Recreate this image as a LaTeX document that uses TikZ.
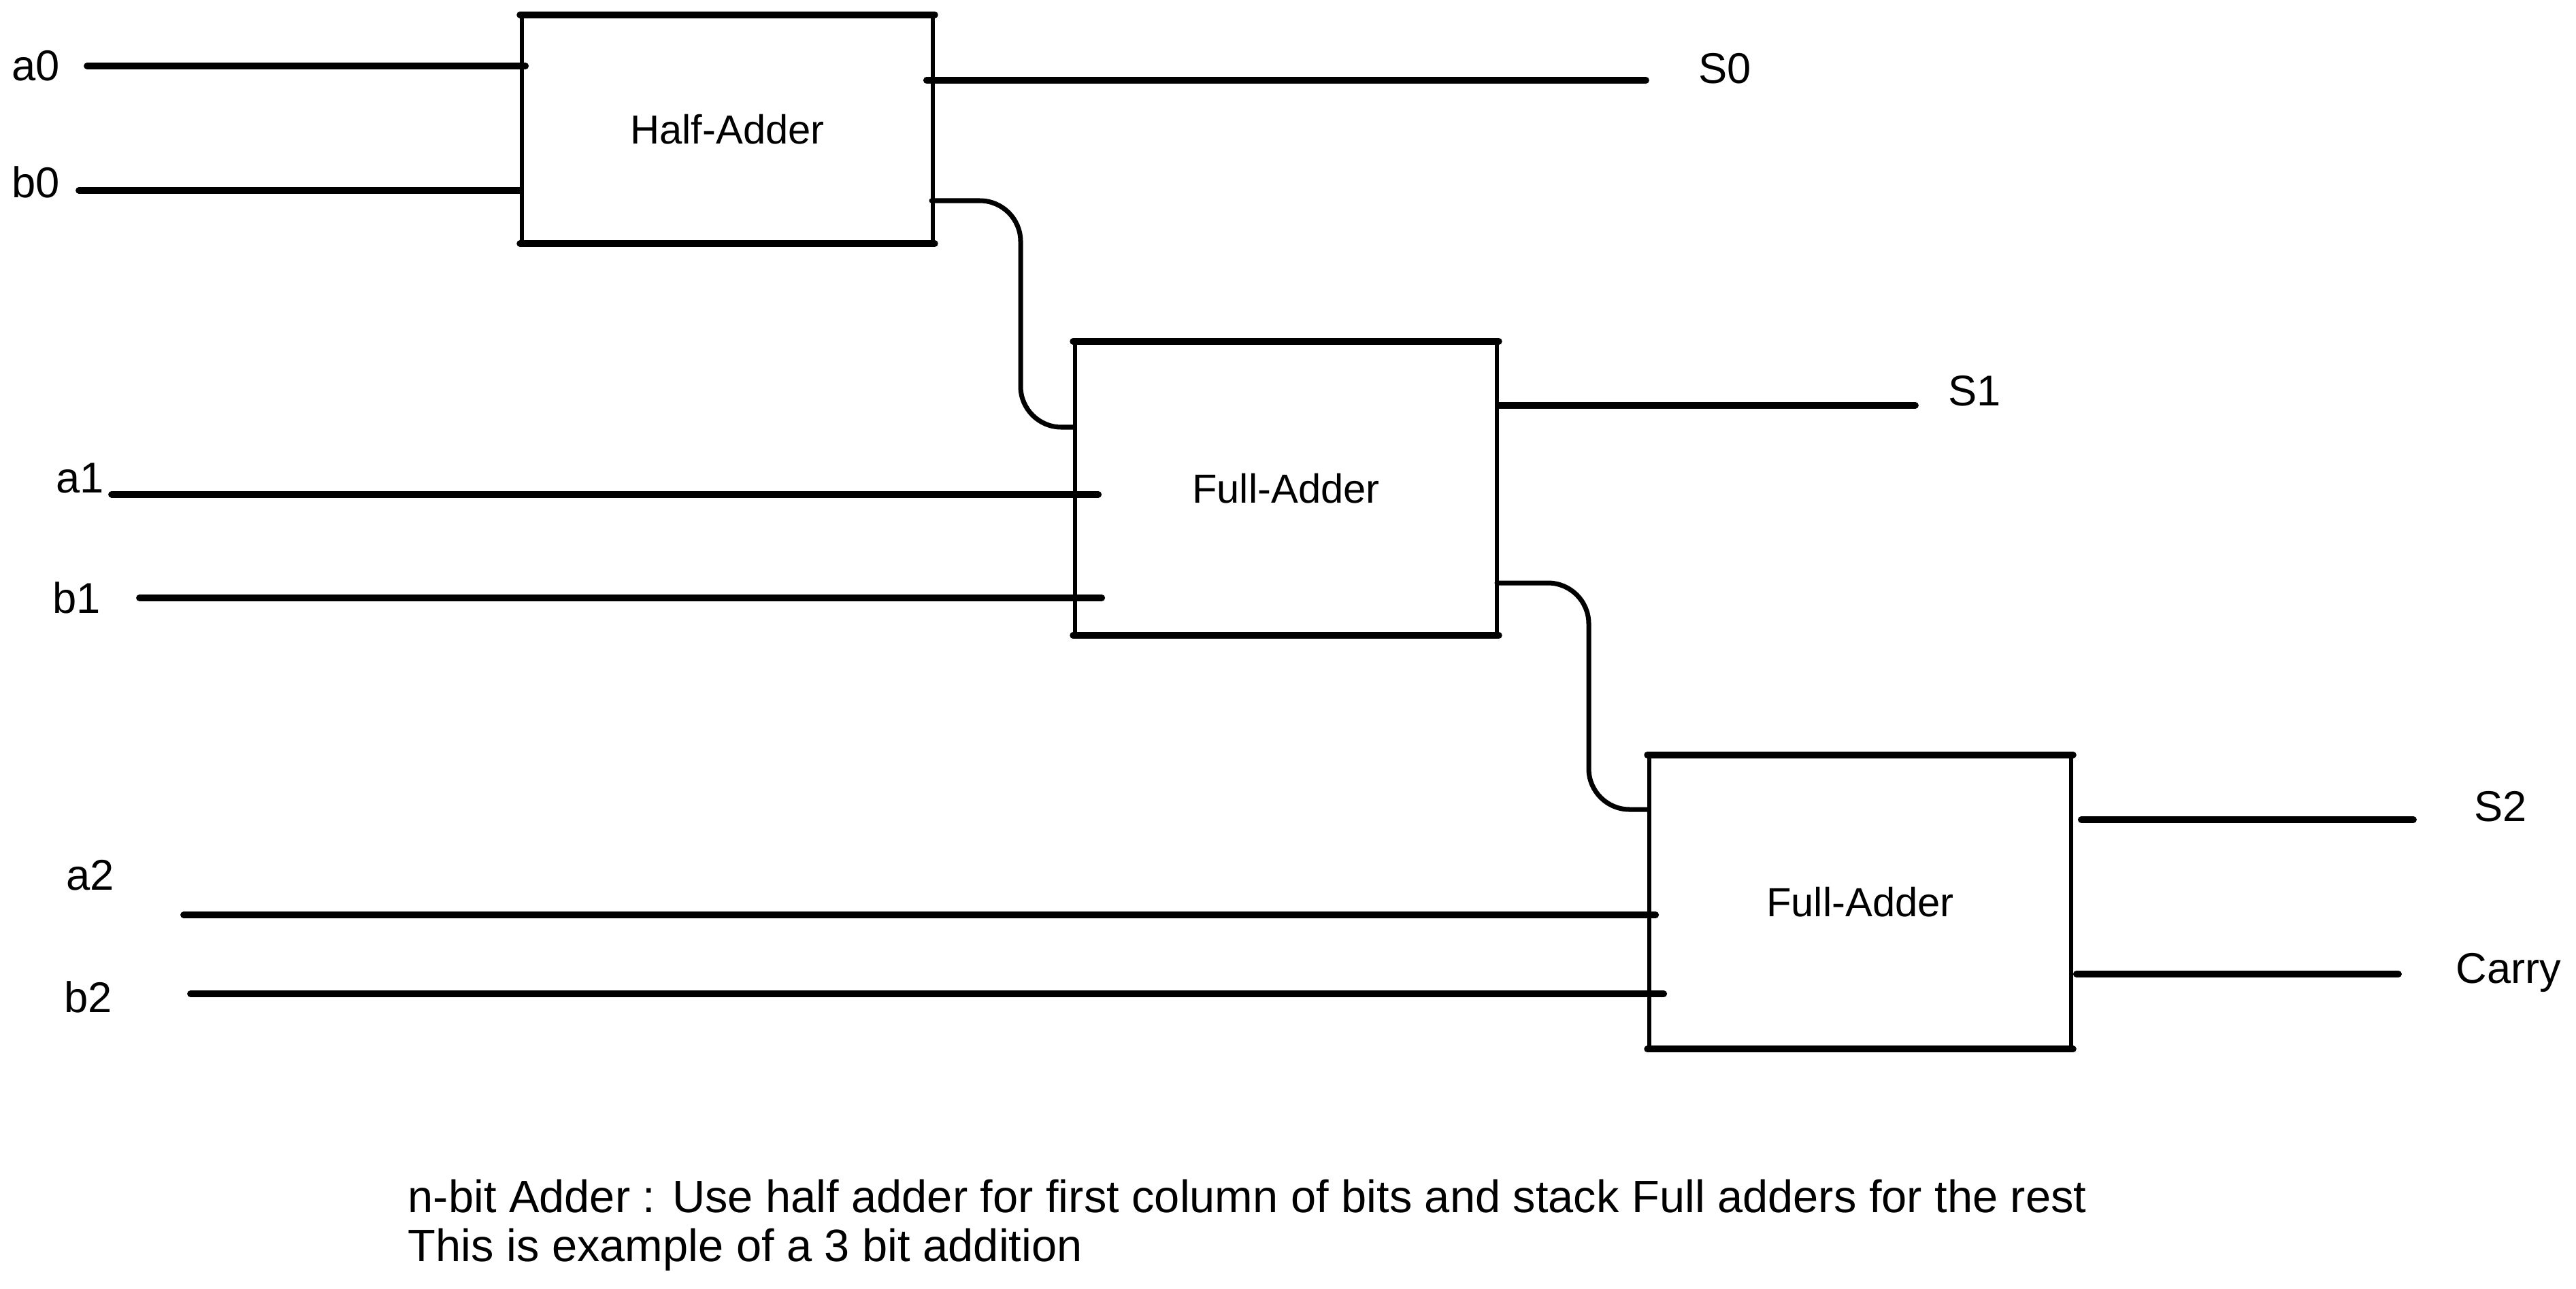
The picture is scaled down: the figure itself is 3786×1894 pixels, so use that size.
\documentclass[tikz,border=0pt]{standalone}
\usepackage{fontspec}
\setmainfont{Liberation Sans}
\usetikzlibrary{positioning}

\begin{document}
\begin{tikzpicture}[x=0.1mm,y=-0.1mm,
	wire/.style={line width=2.8pt,line cap=round},
	carrywire/.style={line width=2pt,line cap=round,rounded corners=6mm},
	adder/.style={draw,line width=1.6pt,minimum width=62mm,minimum height=42.7mm,font=\fontsize{17}{20}\selectfont},
	lbl/.style={inner sep=0pt,font=\fontsize{18}{20}\selectfont}]
	
	\useasboundingbox (0,0) rectangle (3786,1894);
	
	% adders
	\node[adder,minimum width=60.4mm,minimum height=33.1mm] (ha) at (1069,190) {Half-Adder};
	\node[adder] (fa1) at (1890,718) {Full-Adder};
	\node[adder] (fa2) at (2734,1326) {Full-Adder};
	
	\foreach \b in {ha,fa1,fa2} {
		\draw[wire] (\b.north west) -- (\b.north east);
		\draw[wire] (\b.south west) -- (\b.south east);
	}
	
	% input and output labels
	\node[lbl] (a0) at (53,97) {a0};
	\node[lbl] (b0) at (53,268) {b0};
	\node[lbl] (a1) at (118,703) {a1};
	\node[lbl] (b1) at (113,879) {b1};
	\node[lbl] (a2) at (133,1287) {a2};
	\node[lbl] (b2) at (130,1466) {b2};
	\node[lbl] (s0) at (2535,101) {S0};
	\node[lbl] (s1) at (2902,575) {S1};
	\node[lbl] (s2) at (3675,1186) {S2};
	\node[lbl] (carry) at (3687,1430) {Carry};
	
	% wire ends
	\coordinate (a0in) at (128,97);
	\coordinate (b0in) at (116,280);
	\coordinate (a1in) at (164,727);
	\coordinate (b1in) at (205,879);
	\coordinate (a2in) at (270,1345);
	\coordinate (b2in) at (280,1461);
	\coordinate (s0out) at (2419,118);
	\coordinate (s1out) at (2815,596);
	\coordinate (s2out) at (3547,1205);
	\coordinate (cout) at (3525,1432);
	\coordinate (c0) at (1369,295);
	\coordinate (c1) at (2200,857);
	
	\draw[wire] (a0in) -- ([xshift=0.8mm]ha.west |- a0in);
	\draw[wire] (b0in) -- (ha.west |- b0in);
	\draw[wire] (a1in) -- ([xshift=3.7mm]fa1.west |- a1in);
	\draw[wire] (b1in) -- ([xshift=4.2mm]fa1.west |- b1in);
	\draw[wire] (a2in) -- ([xshift=1.2mm]fa2.west |- a2in);
	\draw[wire] (b2in) -- ([xshift=2.4mm]fa2.west |- b2in);
	
	\draw[wire] ([xshift=-1.2mm]ha.east |- s0out) -- (s0out);
	\draw[wire] (fa1.east |- s1out) -- (s1out);
	\draw[wire] ([xshift=1.2mm]fa2.east |- s2out) -- (s2out);
	\draw[wire] ([xshift=0.5mm]fa2.east |- cout) -- (cout);
	
	% carries
	\draw[carrywire] (c0) -| (1500,628) -- (fa1.west |- 0,628);
	\draw[carrywire] (c1) -| (2335,1190) -- (fa2.west |- 0,1190);
	
	% note
	\node[anchor=west,align=left,inner sep=0pt,font=\fontsize{19}{20.5}\selectfont] (note) at (599,1801)
		{n-bit Adder : Use half adder for first column of bits and stack Full adders for the rest\\
		This is example of a 3 bit addition};
	
\end{tikzpicture}
\end{document}
